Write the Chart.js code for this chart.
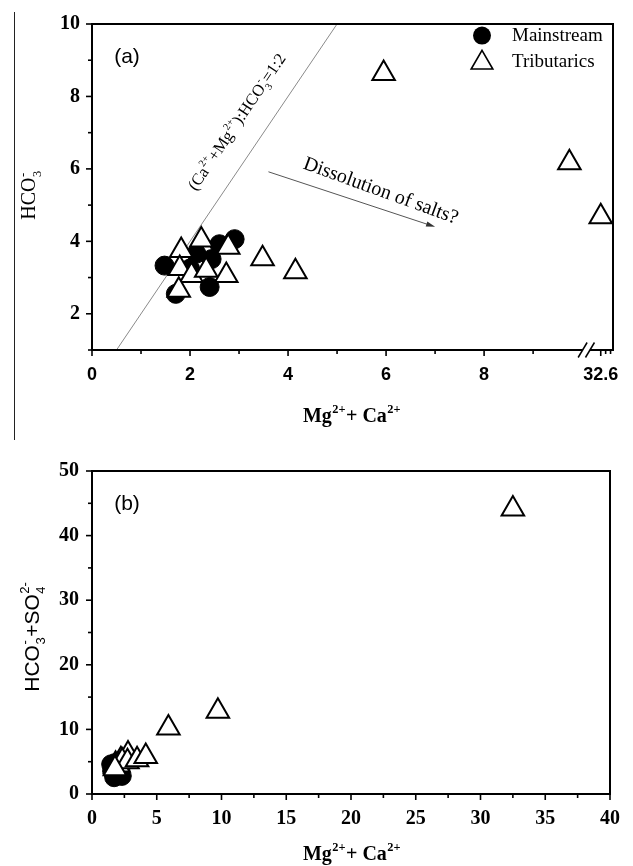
<!DOCTYPE html>
<html><head><meta charset="utf-8">
<script src="https://cdn.jsdelivr.net/npm/chart.js@4.4.1/dist/chart.umd.min.js"></script>
<style>
html,body{margin:0;padding:0;background:#fff;}
body{width:633px;height:866px;position:relative;overflow:hidden;}
#cA{position:absolute;left:0;top:0;}
#cB{position:absolute;left:0;top:440px;}
#edge{position:absolute;left:14px;top:12px;width:1px;height:428px;background:#222;}
</style></head><body>
<div id="edge"></div>
<canvas id="cA" width="633" height="440"></canvas>
<canvas id="cB" width="633" height="426"></canvas>
<script>
// ---------------- DATA ----------------
// Panel (a): HCO3- vs Mg2+ + Ca2+
const mainA_x = [1.48, 1.71, 2.40, 2.91, 2.60, 2.44, 2.13, 2.00];
const mainA_y = [3.33, 2.55, 2.74, 4.06, 3.92, 3.51, 3.66, 3.25];
const tribA_x = [1.82, 2.23, 2.78, 1.79, 2.03, 2.33, 2.74, 1.77, 3.48, 4.15, 5.95, 9.74, 32.6];
const tribA_y = [3.75, 4.04, 3.84, 3.25, 3.06, 3.20, 3.06, 2.65, 3.52, 3.16, 8.63, 6.17, 4.68];
// Panel (b): HCO3- + SO4 2- vs Mg2+ + Ca2+
const mainB_x = [1.48, 1.55, 1.71, 1.95, 2.30, 2.10, 2.20, 1.80];
const mainB_y = [4.6, 3.6, 2.6, 3.1, 2.8, 4.2, 3.6, 4.8];
const tribB_x = [1.82, 2.23, 2.78, 1.79, 2.03, 2.33, 2.74, 1.77, 3.48, 4.15, 5.90, 9.72, 32.5];
const tribB_y = [4.6, 5.3, 6.2, 4.2, 4.5, 5.1, 5.0, 3.9, 5.3, 5.8, 10.2, 12.8, 44.1];
// tick labels
const xTicksA = [0, 2, 4, 6, 8, 32.6];
const yTicksA = [2, 4, 6, 8, 10];
const xTicksB = [0, 5, 10, 15, 20, 25, 30, 35, 40];
const yTicksB = [0, 10, 20, 30, 40, 50];
// reference line (Ca2+ + Mg2+):HCO3- = 1:2  and arrow
const ratioLine_x = [0.5, 5];
const ratioLine_y = [1, 10];
const arrow_x = [3.6, 7.0];
const arrow_y = [5.92, 4.4];
const seriesNames = ['Mainstream', 'Tributarics'];

// broken x axis in panel (a): values beyond the break are drawn just after it
const BREAK_VALUE = 32.6, BREAK_POS = 10.38;
function brk(v) { return v > 10 ? BREAK_POS + (v - BREAK_VALUE) * 0.1 : v; }

// ---------------- helpers ----------------
const SERIF = 'Liberation Serif', SANS = 'Liberation Sans';
function richDraw(ctx, segs, cx, cy, angle, size, family, weight) {
  const f = s => `${weight} ${s}px "${family}"`;
  const ss = size * 0.62;
  let w = 0; const parts = [];
  for (const s of segs) {
    if (s.t !== undefined) {
      ctx.font = f(size); const mw = ctx.measureText(s.t).width;
      parts.push({k: 't', text: s.t, x: w}); w += mw;
    } else {
      ctx.font = f(ss);
      const a = s.sub ? ctx.measureText(s.sub).width : 0;
      const b = s.sup ? ctx.measureText(s.sup).width : 0;
      parts.push({k: 's', sub: s.sub, sup: s.sup, x: w + 0.5}); w += Math.max(a, b) + 1;
    }
  }
  ctx.save(); ctx.translate(cx, cy); ctx.rotate(angle);
  ctx.fillStyle = '#000'; ctx.textBaseline = 'alphabetic'; ctx.textAlign = 'left';
  const x0 = -w / 2, base = size * 0.33;
  for (const p of parts) {
    if (p.k === 't') { ctx.font = f(size); ctx.fillText(p.text, x0 + p.x, base); }
    else {
      ctx.font = f(ss);
      if (p.sub) ctx.fillText(p.sub, x0 + p.x, base + size * 0.28);
      if (p.sup) ctx.fillText(p.sup, x0 + p.x, base - size * 0.45);
    }
  }
  ctx.restore();
}
function triPath(ctx, x, y, r) {
  let a = 0; ctx.beginPath();
  ctx.moveTo(x + Math.sin(a) * r, y - Math.cos(a) * r); a += 2 * Math.PI / 3;
  ctx.lineTo(x + Math.sin(a) * r, y - Math.cos(a) * r); a += 2 * Math.PI / 3;
  ctx.lineTo(x + Math.sin(a) * r, y - Math.cos(a) * r); ctx.closePath();
}

// axis box + ticks plugin
const axesPlugin = {
  id: 'axesBox',
  afterDatasetsDraw(chart, args, o) {
    const {ctx, chartArea: ca, scales: {x, y}} = chart;
    ctx.save();
    ctx.strokeStyle = '#000'; ctx.lineWidth = 2;
    ctx.strokeRect(ca.left, ca.top, ca.right - ca.left, ca.bottom - ca.top);
    ctx.lineWidth = 1.6;
    const tick = (px, len, horiz) => {
      ctx.beginPath();
      if (horiz) { ctx.moveTo(px, ca.bottom); ctx.lineTo(px, ca.bottom + len); }
      else { ctx.moveTo(ca.left, px); ctx.lineTo(ca.left - len, px); }
      ctx.stroke();
    };
    o.xMajor.forEach(v => tick(x.getPixelForValue(v), 6, true));
    o.xMinor.forEach(v => tick(x.getPixelForValue(v), 4, true));
    o.yMajor.forEach(v => tick(y.getPixelForValue(v), 6, false));
    o.yMinor.forEach(v => tick(y.getPixelForValue(v), 4, false));
    if (o.breakMarks) {
      const p = o.breakMarks.map(v => x.getPixelForValue(v));
      ctx.fillStyle = '#fff';
      ctx.fillRect(p[0], ca.bottom - 2, p[1] - p[0], 4);
      ctx.lineWidth = 1.5;
      p.forEach(px => { ctx.beginPath(); ctx.moveTo(px - 4.5, ca.bottom + 7.5); ctx.lineTo(px + 4.5, ca.bottom - 7.5); ctx.stroke(); });
    }
    ctx.restore();
  },
  afterDraw(chart, args, o) {
    const {ctx, chartArea: ca} = chart;
    ctx.save();
    ctx.font = `21px "${SANS}"`; ctx.fillStyle = '#000'; ctx.textAlign = 'center'; ctx.textBaseline = 'middle';
    ctx.fillText(o.letter, ca.left + 35, ca.top + 33);
    ctx.restore();
    richDraw(ctx, o.xTitle, o.xTitlePos[0], o.xTitlePos[1], 0, 20, SERIF, 'bold');
    richDraw(ctx, o.yTitle, o.yTitlePos[0], o.yTitlePos[1], -Math.PI / 2, o.yTitleSize, o.yTitleFont, 'normal');
  }
};

const annotPlugin = {
  id: 'annotA',
  afterDatasetsDraw(chart) {
    const {ctx, chartArea: ca, scales: {x, y}} = chart;
    const x1 = x.getPixelForValue(arrow_x[0]), y1 = y.getPixelForValue(arrow_y[0]);
    const x2 = x.getPixelForValue(arrow_x[1]), y2 = y.getPixelForValue(arrow_y[1]);
    const ang = Math.atan2(y2 - y1, x2 - x1);
    ctx.save();
    ctx.strokeStyle = '#555'; ctx.fillStyle = '#333'; ctx.lineWidth = 1;
    ctx.beginPath(); ctx.moveTo(x1, y1); ctx.lineTo(x2 - 6 * Math.cos(ang), y2 - 6 * Math.sin(ang)); ctx.stroke();
    ctx.translate(x2, y2); ctx.rotate(ang);
    ctx.beginPath(); ctx.moveTo(0, 0); ctx.lineTo(-9, -2.6); ctx.lineTo(-9, 2.6); ctx.closePath(); ctx.fill();
    ctx.restore();
    richDraw(ctx, [{t: 'Dissolution of salts?'}], x.getPixelForValue(5.9), y.getPixelForValue(5.42), 20 * Math.PI / 180, 20, SERIF, 'normal');
    const lx1 = x.getPixelForValue(ratioLine_x[0]), ly1 = y.getPixelForValue(ratioLine_y[0]);
    const lx2 = x.getPixelForValue(ratioLine_x[1]), ly2 = y.getPixelForValue(ratioLine_y[1]);
    const la = Math.atan2(ly2 - ly1, lx2 - lx1);
    richDraw(ctx, [{t: '(Ca'}, {sup: '2+'}, {t: '+Mg'}, {sup: '2+'}, {t: '):HCO'}, {sub: '3', sup: '-'}, {t: '=1:2'}],
      x.getPixelForValue(2.95), y.getPixelForValue(7.3), la, 16.5, SERIF, 'normal');
    const lxm = ca.right - 131;
    ctx.save();
    ctx.fillStyle = '#000';
    ctx.beginPath(); ctx.arc(lxm, ca.top + 11.6, 9, 0, Math.PI * 2); ctx.fill();
    triPath(ctx, lxm, ca.top + 38.8, 12.5);
    ctx.fillStyle = '#fff'; ctx.fill(); ctx.strokeStyle = '#000'; ctx.lineWidth = 1.6; ctx.stroke();
    ctx.fillStyle = '#000'; ctx.font = `19px "${SERIF}"`; ctx.textAlign = 'left'; ctx.textBaseline = 'middle';
    ctx.fillText(seriesNames[0], lxm + 30, ca.top + 11.6);
    ctx.fillText(seriesNames[1], lxm + 30, ca.top + 38.3);
    ctx.restore();
  }
};

function pts(xs, ys, f) { return xs.map((v, i) => ({x: f ? f(v) : v, y: ys[i]})); }
function mainDs(data) {
  return {label: seriesNames[0], data, pointStyle: 'circle', pointRadius: 9.5, backgroundColor: '#000',
    borderColor: '#000', borderWidth: 1, order: 2, clip: false};
}
function tribDs(data) {
  return {label: seriesNames[1], data, pointStyle: 'triangle', pointRadius: 13, backgroundColor: '#fff',
    borderColor: '#000', borderWidth: 2, order: 1, clip: false};
}
function scaleX(min, max, ticks, labelFn, h, pad, font) {
  return {type: 'linear', min, max, afterFit: s => { s.height = h; },
    afterBuildTicks: s => { s.ticks = ticks.map(v => ({value: labelFn ? labelFn(v) : v})); },
    ticks: {callback: (v, i) => String(ticks[i]), font, color: '#000', padding: pad, maxRotation: 0, autoSkip: false},
    grid: {display: false, drawTicks: false}, border: {display: false}};
}
function scaleY(min, max, ticks, pad, font) {
  return {type: 'linear', min, max, afterFit: s => { s.width = 92; },
    afterBuildTicks: s => { s.ticks = ticks.map(v => ({value: v})); },
    ticks: {callback: (v, i) => String(ticks[i]), font, color: '#000', padding: pad, autoSkip: false},
    grid: {display: false, drawTicks: false}, border: {display: false}};
}
const MGCA = [{t: 'Mg'}, {sup: '2+'}, {t: '+ Ca'}, {sup: '2+'}];

new Chart(document.getElementById('cA'), {
  type: 'scatter',
  data: {datasets: [
    mainDs(pts(mainA_x, mainA_y, brk)),
    tribDs(pts(tribA_x, tribA_y, brk)),
    {label: 'ratio', data: pts(ratioLine_x, ratioLine_y), showLine: true, pointRadius: 0, borderColor: '#8a8a8a', borderWidth: 1, order: 3}
  ]},
  options: {
    responsive: false, animation: false, events: [], devicePixelRatio: 1,
    layout: {padding: {top: 22, right: 20, left: 0, bottom: 0}},
    scales: {
      x: scaleX(0, 10.63, xTicksA, brk, 90, 14, {family: SANS, size: 18, weight: 'bold'}),
      y: scaleY(1, 10, yTicksA, 12, {family: SERIF, size: 20, weight: 'bold'})
    },
    plugins: {
      legend: {display: false}, tooltip: {enabled: false},
      axesBox: {xMajor: [0, 2, 4, 6, 8, brk(32.6)], xMinor: [1, 3, 5, 7, 9, brk(32.6) + 0.1, brk(32.6) + 0.2],
        yMajor: [2, 4, 6, 8, 10], yMinor: [1, 3, 5, 7, 9], breakMarks: [10.01, 10.16],
        letter: '(a)', xTitle: MGCA, xTitlePos: [352, 415], yTitle: [{t: 'HCO'}, {sub: '3', sup: '-'}],
        yTitlePos: [28.5, 195], yTitleSize: 20, yTitleFont: SERIF}
    }
  },
  plugins: [axesPlugin, annotPlugin]
});

new Chart(document.getElementById('cB'), {
  type: 'scatter',
  data: {datasets: [
    mainDs(pts(mainB_x, mainB_y)),
    tribDs(pts(tribB_x, tribB_y))
  ]},
  options: {
    responsive: false, animation: false, events: [], devicePixelRatio: 1,
    layout: {padding: {top: 31, right: 20, left: 0, bottom: 0}},
    scales: {
      x: scaleX(0, 40, xTicksB, null, 72, 13, {family: SERIF, size: 20, weight: 'bold'}),
      y: scaleY(0, 50, yTicksB, 13, {family: SERIF, size: 20, weight: 'bold'})
    },
    plugins: {
      legend: {display: false}, tooltip: {enabled: false},
      axesBox: {xMajor: xTicksB, xMinor: [2.5, 7.5, 12.5, 17.5, 22.5, 27.5, 32.5, 37.5],
        yMajor: yTicksB, yMinor: [5, 15, 25, 35, 45],
        letter: '(b)', xTitle: MGCA, xTitlePos: [352, 413], yTitle: [{t: 'HCO'}, {sub: '3', sup: '-'}, {t: '+SO'}, {sub: '4', sup: '2-'}],
        yTitlePos: [31.7, 196.7], yTitleSize: 21, yTitleFont: SANS}
    }
  },
  plugins: [axesPlugin]
});
</script>
</body></html>
